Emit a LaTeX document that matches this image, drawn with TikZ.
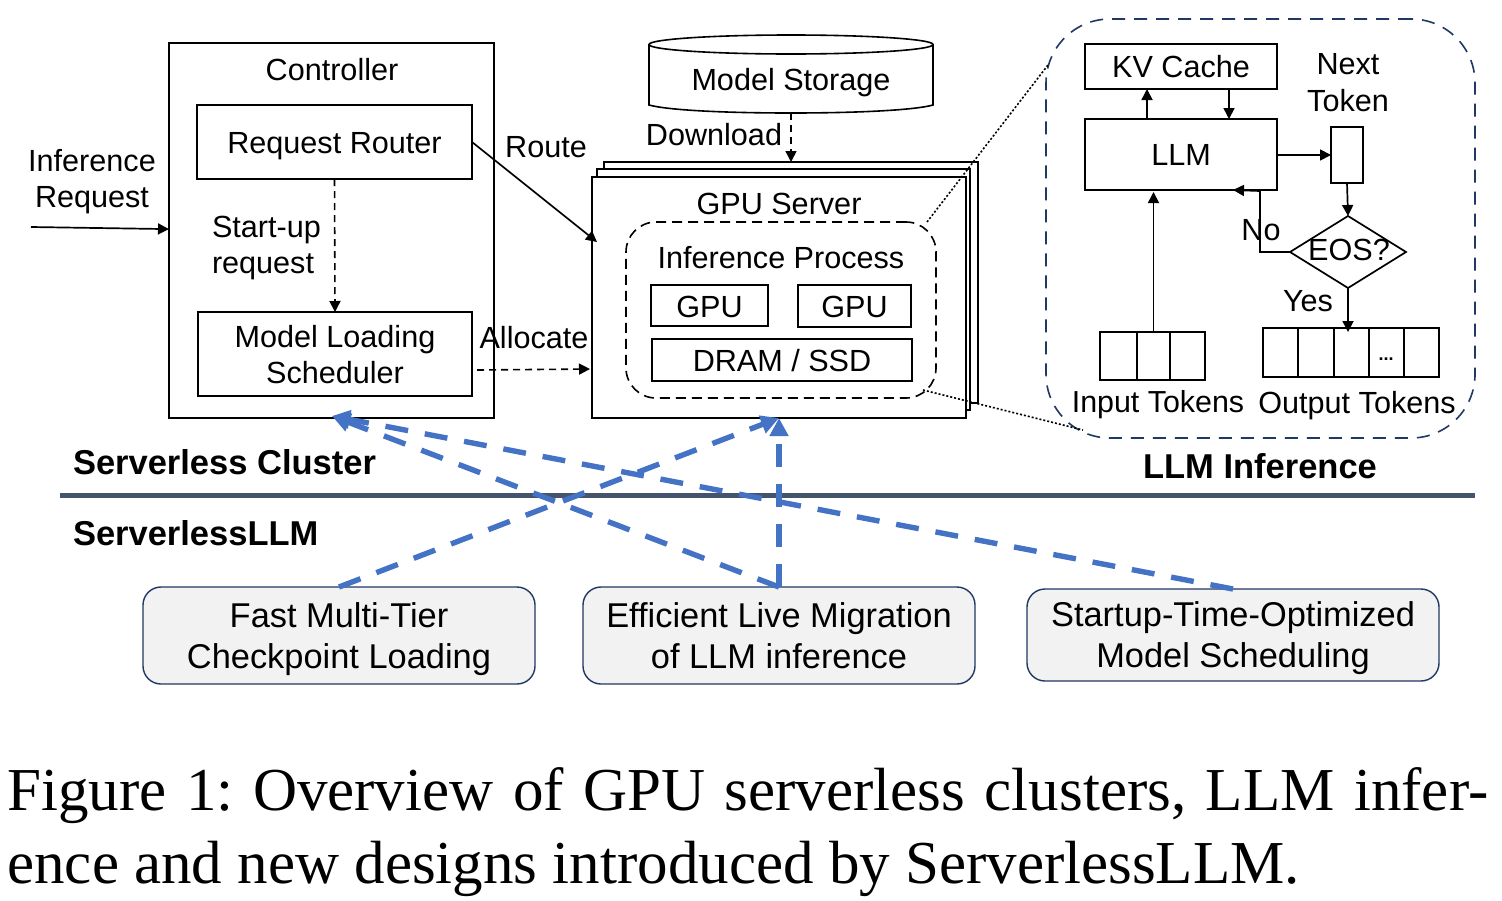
\documentclass[tikz,border=0pt]{standalone}
\usepackage{fontspec}
\setmainfont{Liberation Sans}
\newfontfamily\capfont{Liberation Serif}
\usetikzlibrary{arrows.meta,shapes.geometric}
\definecolor{navy}{HTML}{1F3864}
\definecolor{slate}{HTML}{44546A}
\definecolor{blueline}{HTML}{4472C4}
\definecolor{panel}{HTML}{F2F2F2}
\newcommand{\ts}{\rule[-3.3pt]{0pt}{17.8pt}}
\newcommand{\tg}{\rule[-1pt]{0pt}{13.5pt}}
\newcommand{\fs}{\rule[-4pt]{0pt}{20pt}}
\newcommand{\pxbox}[7][]{%
  \pgfmathsetmacro{\pxw}{(#4-#2)/2}\pgfmathsetmacro{\pxh}{(#5-#3)/2}%
  \pgfmathsetmacro{\pxx}{(#2+#4)/2}\pgfmathsetmacro{\pxy}{(#3+#5)/2}%
  \node[minimum width=\pxw pt,minimum height=\pxh pt,inner sep=0pt,outer sep=0pt,#1] (#6) at (\pxx,\pxy) {#7};}
\tikzset{
  body/.style={font=\fontsize{15.3}{18}\selectfont},
  boxed/.style={draw=black,line width=0.9pt,fill=white,body,align=center},
  tok/.style={draw=black,line width=0.9pt,fill=white,body},
  lbl/.style={body,inner sep=0pt,outer sep=0pt,anchor=base},
  lbll/.style={body,inner sep=0pt,outer sep=0pt,anchor=west,align=left},
  mlbl/.style={body,inner sep=0pt,outer sep=0pt,align=center},
  head/.style={font=\fontsize{17.25}{20}\selectfont\bfseries,inner sep=0pt,outer sep=0pt,anchor=base west},
  feat/.style={draw=navy,line width=0.7pt,fill=panel,rounded corners=9pt,font=\fontsize{17.2}{20.5}\selectfont,align=center},
  dashbox/.style={draw=black,line width=0.8pt,dash pattern=on 5pt off 3pt,rounded corners=15pt},
  arrowk/.style={line width=0.85pt,-{Triangle[length=5.5pt,width=5.5pt]}},
  dasharrow/.style={line width=0.8pt,dash pattern=on 3.5pt off 2.5pt,-{Triangle[length=5.5pt,width=5.5pt]}},
  dotline/.style={line width=0.8pt,dash pattern=on 1pt off 1pt},
  bluearrow/.style={draw=blueline,line width=2.7pt,dash pattern=on 11.5pt off 8.5pt,
    -{Triangle[length=9pt,width=9pt,fill=blueline]}},
}
\begin{document}
\begin{tikzpicture}[x=0.5pt,y=-0.5pt]
\useasboundingbox[fill=white] (0,0) rectangle (1502,900);
% Controller
\pxbox[boxed]{169}{43}{494}{418}{ctrl}{}
\node[lbl] (ctrlt) at (332,80) {Controller};
\pxbox[boxed]{197}{105}{472}{179}{rr}{\ts Request Router}
\pxbox[boxed]{198}{312}{472}{396}{mls}{\ts Model Loading\\\ts Scheduler}
\node[mlbl] (ireq) at (92,182) {Inference\\Request};
\node[lbll] (sreq) at (212,248) {Start-up\\request};
\coordinate (irqs) at (31,227);
\draw[arrowk] (irqs) -- ([yshift=0.7pt]ctrl.west);
\draw[dasharrow] (rr.south) -- (mls.north);
% Storage
\pxbox{649}{46}{933}{113}{store}{\fontsize{15.3}{18}\selectfont\ts Model Storage}
\draw[line width=0.8pt] (649,44.5) arc[x radius=142,y radius=9.5,start angle=180,end angle=0] (649,44.5) arc[x radius=142,y radius=9.5,start angle=180,end angle=360]
  -- (933,105) .. controls (915,110) and (860,113) .. (791,113) .. controls (722,113) and (667,110) .. (649,105) -- cycle;
% GPU servers
\pxbox[boxed]{604}{162}{978}{403}{srv3}{}
\pxbox[boxed]{597}{169}{970}{410}{srv2}{}
\pxbox[boxed]{592}{177}{966}{418}{srv1}{}
\node[lbl] (gput) at (779,214) {GPU Server};
\pxbox[dashbox]{626}{222}{936}{398}{infp}{}
\node[lbl] (inft) at (781,268) {Inference Process};
\pxbox[boxed]{651}{285}{768}{326}{gpua}{\tg GPU}
\pxbox[boxed]{798}{285}{911}{327}{gpub}{\tg GPU}
\pxbox[boxed]{652}{339}{912}{381}{dram}{\tg DRAM / SSD}
\draw[dasharrow] (store.south) -- (store.south |- srv3.north);
\node[lbl] (dl) at (714,145) {Download};
\node[lbl] (route) at (546,157) {Route};
\node[lbl] (alloc) at (534,348) {Allocate};
\coordinate (routee) at (597,242);
\draw[arrowk] (rr.east) -- (routee);
\coordinate (allocs) at (477,370);
\coordinate (alloce) at (590,369);
\draw[dasharrow] (allocs) -- (alloce);
% LLM inference panel
\pxbox[draw=navy,line width=0.8pt,dash pattern=on 6.5pt off 4.5pt,rounded corners=32pt]{1046}{19}{1475}{438}{llmp}{}
\coordinate (dota) at (927,222);
\coordinate (dotb) at (1048,65);
\coordinate (dotc) at (923,390);
\coordinate (dotd) at (1083,430);
\draw[dotline] (dota) -- (dotb);
\draw[dotline] (dotc) -- (dotd);
\pxbox[boxed]{1085}{44}{1277}{89}{kv}{\ts KV Cache}
\pxbox[boxed]{1085}{119}{1277}{190}{llm}{\ts LLM}
\node[mlbl,font=\fontsize{15.3}{18.5}\selectfont] (nt) at (1348,83) {Next\\Token};
\pxbox[boxed]{1331}{127}{1363}{183}{ntok}{}
\node[diamond,draw=black,line width=0.85pt,fill=white,minimum width=58pt,minimum height=36pt,inner sep=0pt,outer sep=0pt] (eos) at (1348,252) {};
\node[body,inner sep=0pt] (eost) at (1349,250) {EOS?};
\draw[arrowk] ([xshift=-17pt]llm.north) -- ([xshift=-17pt]kv.south);
\draw[arrowk] ([xshift=24pt]kv.south) -- ([xshift=24pt]llm.north);
\draw[arrowk] (llm.east |- ntok.west) -- (ntok.west);
\draw[arrowk] (ntok.south) -- (eos.north);
\draw[arrowk] (eos.west) -| (1260,191) -- ([xshift=-22pt]llm.south east);
\node[lbl] (no) at (1261,240) {No};
\node[lbl] (yes) at (1308,311) {Yes};
\foreach \a/\b/\n in {1100/1137/in1,1137/1170/in2,1170/1205/in3}{\pxbox[tok]{\a}{332}{\b}{380}{\n}{}}
\foreach \a/\b/\n in {1263/1298/out1,1298/1334/out2,1334/1369/out3,1369/1404/out4,1404/1439/out5}{\pxbox[tok]{\a}{328}{\b}{377}{\n}{}}
\node[font=\fontsize{9}{10}\selectfont\bfseries,inner sep=0pt] (dots) at (1386,359) {...};
\draw[arrowk] (in2.north) -- ([yshift=-1pt]in2.north |- llm.south);
\draw[arrowk] (eos.south) -- ([yshift=-2pt]eos.south |- out3.north);
\node[lbl,font=\fontsize{15.2}{18}\selectfont] (intok) at (1158,412.5) {Input Tokens};
\node[lbl] (outok) at (1357,413.5) {Output Tokens};
\node[head,anchor=base] (llmh) at (1260,478) {LLM Inference};
\node[head] (sch) at (73,474) {Serverless Cluster};
\node[head] (slh) at (73,545) {ServerlessLLM};
\coordinate (rulea) at (60,495);
\coordinate (ruleb) at (1475,495);
\draw[slate,line width=2.5pt] (rulea) -- (ruleb);
% Feature boxes
\pxbox[feat]{143}{587}{535}{684}{fast}{\fs Fast Multi-Tier\\\fs Checkpoint Loading}
\pxbox[feat]{583}{587}{975}{684}{eff}{\fs Efficient Live Migration\\\fs of LLM inference}
\pxbox[feat]{1027}{589}{1439}{681}{sched}{\fs Startup-Time-Optimized\\\fs Model Scheduling}
\coordinate (ctrlb) at (332,416);
\coordinate (srvb) at (779,418);
\draw[bluearrow] (fast.north) -- (srvb);
\draw[bluearrow] (eff.north) -- (srvb);
\draw[bluearrow] (eff.north) -- (ctrlb);
\draw[bluearrow] (sched.north) -- (ctrlb);
% Caption
\node[inner sep=0pt,anchor=north west,align=left,font=\capfont\fontsize{30.5}{36.5}\selectfont\frenchspacing] (cap) at (7,767)
  {\hbox to 740.5pt{Figure 1: Overview of GPU serverless clusters, LLM infer-}\\ence and new designs introduced by ServerlessLLM.};
\end{tikzpicture}
\end{document}
